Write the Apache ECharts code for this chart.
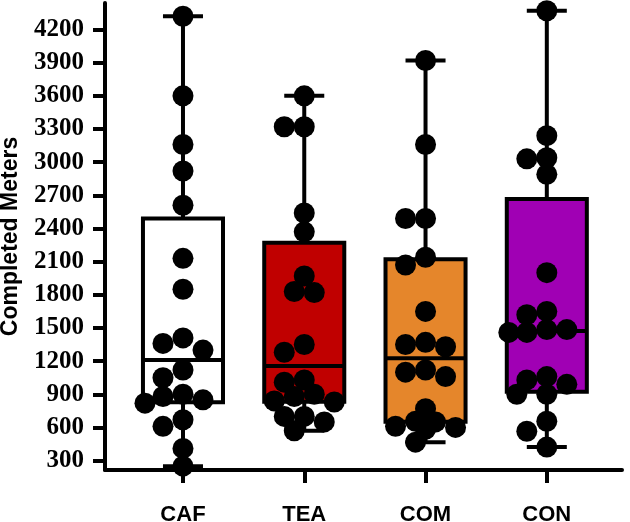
<!DOCTYPE html>
<html>
<head>
<meta charset="utf-8">
<script src="https://cdn.jsdelivr.net/npm/echarts@6/dist/echarts.min.js"></script>
<style>
html, body { margin: 0; padding: 0; background: #fff; }
#main { width: 630px; height: 522px; }
</style>
</head>
<body>
<div id="main"></div>
<script>
// groups on the x axis
var groups = ['CAF', 'TEA', 'COM', 'CON'];

// completed meters, one value per subject
var cafValues = [4320, 3600, 3160, 2920, 2610, 2130, 1850, 1410, 1360, 1300, 1120, 1050, 900, 880, 850, 820, 670, 610, 410, 250];
var teaValues = [3600, 3320, 3320, 2540, 2370, 1970, 1830, 1820, 1350, 1280, 1030, 1010, 900, 880, 840, 830, 700, 700, 650, 570];
var comValues = [3920, 3160, 2490, 2490, 2140, 2070, 1650, 1370, 1350, 1330, 1120, 1100, 1060, 770, 656, 650, 611, 600, 584, 467];
var conValues = [4370, 3240, 3040, 3030, 2890, 2000, 1650, 1620, 1485, 1485, 1460, 1460, 1060, 1030, 990, 900, 900, 656, 566, 422];

var yTicks = [300, 600, 900, 1200, 1500, 1800, 2100, 2400, 2700, 3000, 3300, 3600, 3900, 4200];

var boxColors = ['#ffffff', '#c00000', '#e5862b', '#a000b4'];

var allValues = [cafValues, teaValues, comValues, conValues];

// quartiles the Prism way: position (n+1)p
function quantile(sorted, p) {
    var n = sorted.length;
    var h = (n + 1) * p - 1;
    if (h <= 0) return sorted[0];
    if (h >= n - 1) return sorted[n - 1];
    var lo = Math.floor(h);
    return sorted[lo] + (h - lo) * (sorted[lo + 1] - sorted[lo]);
}

var boxData = allValues.map(function (vals, i) {
    var s = vals.slice().sort(function (a, b) { return a - b; });
    return [i, s[0], quantile(s, 0.25), quantile(s, 0.5), quantile(s, 0.75), s[s.length - 1]];
});

function renderBox(params, api) {
    var i = api.value(0);
    var lo = api.value(1), q1 = api.value(2), med = api.value(3), q3 = api.value(4), hi = api.value(5);
    var half = 0.33, cap = 0.165;
    var tl = api.coord([i - half, q3]);
    var br = api.coord([i + half, q1]);
    var top = api.coord([i, hi]);
    var bot = api.coord([i, lo]);
    var capL = api.coord([i - cap, lo])[0];
    var capR = api.coord([i + cap, lo])[0];
    var medY = api.coord([i, med])[1];
    var st = { stroke: '#000', lineWidth: 4 };
    return {
        type: 'group',
        children: [
            { type: 'line', shape: { x1: top[0], y1: top[1], x2: top[0], y2: tl[1] }, style: st },
            { type: 'line', shape: { x1: bot[0], y1: bot[1], x2: bot[0], y2: br[1] }, style: st },
            { type: 'line', shape: { x1: capL, y1: top[1], x2: capR, y2: top[1] }, style: st },
            { type: 'line', shape: { x1: capL, y1: bot[1], x2: capR, y2: bot[1] }, style: st },
            {
                type: 'rect',
                shape: { x: tl[0], y: tl[1], width: br[0] - tl[0], height: br[1] - tl[1] },
                style: { fill: boxColors[i], stroke: '#000', lineWidth: 4 }
            },
            { type: 'line', shape: { x1: tl[0], y1: medY, x2: br[0], y2: medY }, style: st }
        ]
    };
}

var chart = echarts.init(document.getElementById('main'));

var boxSeries = {
    type: 'custom',
    renderItem: renderBox,
    data: boxData,
    clip: false,
    z: 2
};

var option = {
    animation: false,
    backgroundColor: '#fff',
    grid: { left: 105, right: 8, top: 3, bottom: 52, containLabel: false, outerBoundsMode: 'none' },
    xAxis: {
        type: 'value',
        min: -0.643,
        max: 3.62,
        splitLine: { show: false },
        axisLine: { onZero: false, lineStyle: { color: '#000', width: 4 } },
        axisTick: { customValues: [0, 1, 2, 3], length: 13, lineStyle: { color: '#000', width: 4 } },
        axisLabel: {
            customValues: [0, 1, 2, 3],
            formatter: function (v) { return groups[v]; },
            margin: 34,
            color: '#000',
            fontFamily: 'Liberation Sans, Arial',
            fontWeight: 'bold',
            fontSize: 22
        }
    },
    yAxis: {
        type: 'value',
        min: 215,
        max: 4440,
        splitLine: { show: false },
        axisLine: { show: true, onZero: false, lineStyle: { color: '#000', width: 4 } },
        axisTick: { show: true, customValues: yTicks, length: 12, lineStyle: { color: '#000', width: 4 } },
        axisLabel: {
            customValues: yTicks,
            formatter: function (v) { return String(v); },
            margin: 21,
            color: '#000',
            fontFamily: 'Liberation Serif, Times New Roman',
            fontWeight: 'bold',
            fontSize: 25
        },
        name: 'Completed Meters',
        nameLocation: 'middle',
        nameGap: 83,
        nameMoveOverlap: false,
        nameTextStyle: {
            color: '#000',
            fontFamily: 'Liberation Sans, Arial',
            fontWeight: 'bold',
            fontSize: 23
        }
    },
    series: [boxSeries]
};

chart.setOption(option);

// spread the dots sideways so they do not sit on top of each other
var dotSize = 21;
var p0 = chart.convertToPixel({ gridIndex: 0 }, [0, 0]);
var p1 = chart.convertToPixel({ gridIndex: 0 }, [1, 1000]);
var pxX = p1[0] - p0[0];
var pxY = (p0[1] - p1[1]) / 1000;

var dots = [];
allValues.forEach(function (vals, i) {
    var placed = [];
    var s = vals.slice().sort(function (a, b) { return b - a; });
    s.forEach(function (v) {
        var y = v * pxY;
        var cands = [0, -10, 10, -20, 20, -30, 30, -38, 38];
        var dx = 0;
        for (var k = 0; k < cands.length; k++) {
            var ok = placed.every(function (p) {
                var a = p[0] - cands[k], b = p[1] - y;
                return a * a + b * b >= 16 * 16;
            });
            if (ok) { dx = cands[k]; break; }
        }
        placed.push([dx, y]);
        dots.push([i + dx / pxX, v]);
    });
});

chart.setOption({
    series: [
        boxSeries,
        {
            type: 'scatter',
            data: dots,
            symbolSize: dotSize,
            itemStyle: { color: '#000', opacity: 1 },
            clip: false,
            z: 3
        }
    ]
});
</script>
</body>
</html>
